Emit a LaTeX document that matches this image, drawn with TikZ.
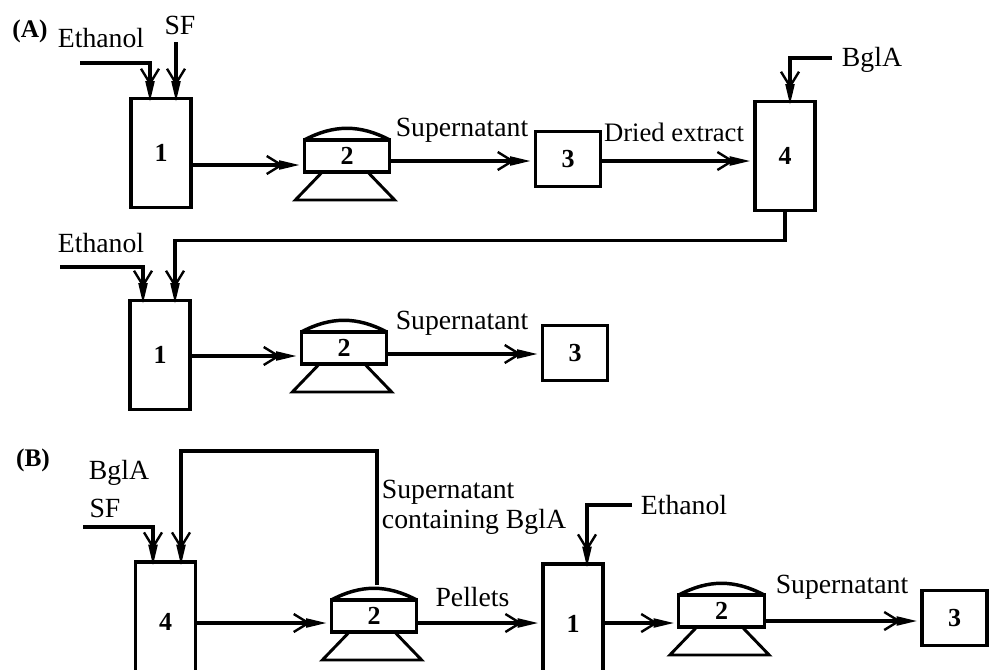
\documentclass[tikz,border=0pt]{standalone}
\usepackage{fontspec}
\setmainfont{Liberation Serif}
\usepackage{tikz}
\usetikzlibrary{arrows.meta, positioning, calc}

\newcommand{\centrifuge}[2]{%
  \node[rotor] (#1) at (#2) {2};
  \draw[line width=2.6pt] (#1.north west) to[bend left=28] (#1.north east);
  \draw[line width=2.2pt, line join=miter] ($(#1.south west)+(18,0)$) -- ($(#1.south west)+(-9,28)$)
    -- ($(#1.south east)+(5,28)$) -- ($(#1.south east)+(-22,0)$);
}

\begin{document}
\begin{tikzpicture}[
    x=0.75pt, y=-0.75pt,
    every node/.style={font=\fontsize{20.8}{22.8}\selectfont, align=left, inner sep=0pt, outer sep=0pt},
    unit/.style={draw, line width=2.6pt, font=\fontsize{19.5}{22}\selectfont\bfseries, align=center},
    tall/.style={unit, minimum width=45pt, minimum height=82pt},
    tallcut/.style={unit, minimum width=45pt, minimum height=90pt},
    small/.style={unit, minimum width=49pt, minimum height=41pt},
    rotor/.style={unit, line width=2.4pt, minimum width=64pt, minimum height=24pt},
    panel/.style={font=\fontsize{19}{22}\selectfont\bfseries},
    pipe/.style={line width=2.4pt},
    arr/.style={pipe, shorten >=-3pt, -{Straight Barb[length=11pt,width=13.5pt,line width=1.8pt,sep=-3.5pt]Triangle[length=16pt,width=6.5pt]}},
    arrs/.style={arr, shorten >=3pt}
  ]
  \useasboundingbox (0,0) rectangle (989,669);

  % panel A, upper row
  \node[panel] (panelA) at (30,31) {(A)};
  \node (etA) at (101,38) {Ethanol};
  \node (sfA) at (180,25) {SF};
  \node[tall] (t1) at (161,153) {1};
  \centrifuge{c1}{347,156}
  \node (supA) at (462,130) {Supernatant};
  \node[small] (s1) at (568,159) {3};
  \node[font=\fontsize{20}{22}\selectfont] (dried) at (674,132) {Dried extract};
  \node[tall] (t4) at (785,156) {4};
  \node (bglA) at (872,60) {BglA};
  \coordinate (etAin) at (80,63);
  \coordinate (sfAin) at (176,42);
  \coordinate (bglAin) at (832,58);

  \draw[arr] (etAin) -| ($(t1.north)+(-11,0)$);
  \draw[arr] (sfAin) -- (sfAin |- t1.north);
  \draw[arrs] ($(t1.east)+(0,12)$) -- ($(c1.west)+(0,9)$);
  \draw[arrs] ($(c1.east)+(0,5)$) -- ($(s1.west)+(0,2)$);
  \draw[arrs] ($(s1.east)+(0,2)$) -- ($(t4.west)+(0,5)$);
  \draw[arr] (bglAin) -| ($(t4.north)+(5,0)$);

  % panel A, lower row
  \node (etB) at (101,243) {Ethanol};
  \node[tall] (t2) at (160,355) {1};
  \centrifuge{c2}{344,348}
  \node (supB) at (462,323) {Supernatant};
  \node[small] (s2) at (575,353) {3};
  \coordinate (etBin) at (60,267);

  \draw[arr] (t4.south) |- ($(t2.north)+(15,-60)$) -- ($(t2.north)+(15,0)$);
  \draw[arr] (etBin) -| ($(t2.north)+(-17,0)$);
  \draw[arrs] ($(t2.east)+(0,1)$) -- ($(c2.west)+(0,8)$);
  \draw[arrs] ($(c2.east)+(0,6)$) -- ($(s2.west)+(0,1)$);

  % panel B
  \node[panel] (panelB) at (33,460) {(B)};
  \node (bglB) at (119,473) {BglA};
  \node (sfB) at (105,508) {SF};
  \node[tallcut] (t3) at (165.5,622) {4};
  \centrifuge{c3}{374,616}
  \node (supC) at (474,507.5) {Supernatant\\containing BglA};
  \node (pel) at (472.5,597) {Pellets};
  \node[tallcut] (t5) at (573,624) {1};
  \node (etC) at (684,505) {Ethanol};
  \centrifuge{c4}{721.5,611}
  \node (supD) at (842,587) {Supernatant};
  \node[small] (s3) at (954.5,618) {3};
  \coordinate (sfBin) at (83,527);
  \coordinate (etCin) at (632,505);

  \draw[arr] (sfBin) -| ($(t3.north)+(-12.5,0)$);
  \draw[arr] ($(c3.north)+(3,-15)$) |- ($(t3.north)+(15.5,-111)$) -- ($(t3.north)+(15.5,0)$);
  \draw[arrs] ($(t3.east)+(0,1)$) -- ($(c3.west)+(0,7)$);
  \draw[arrs] ($(c3.east)+(0,7)$) -- ($(t5.west)+(0,-1)$);
  \draw[arr] (etCin) -| ($(t5.north)+(14,0)$);
  \draw[arrs] ($(t5.east)+(0,-1)$) -- ($(c4.west)+(0,12)$);
  \draw[arrs] ($(c4.east)+(0,10)$) -- ($(s3.west)+(0,3)$);
\end{tikzpicture}
\end{document}
